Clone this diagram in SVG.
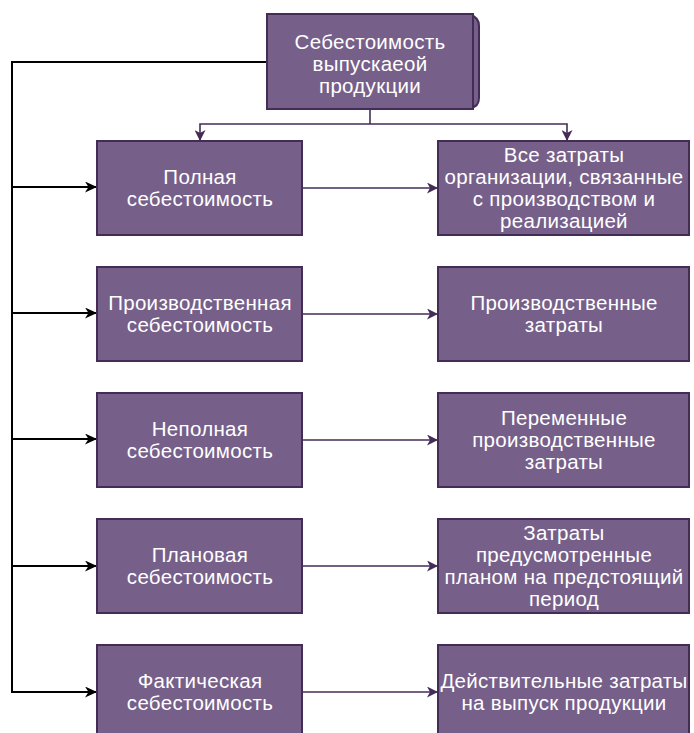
<svg xmlns="http://www.w3.org/2000/svg" width="694" height="733" viewBox="0 0 694 733">
<defs>
<marker id="ab" markerUnits="userSpaceOnUse" markerWidth="13" markerHeight="11" refX="12" refY="5.5" orient="auto"><path d="M0,0 L12,5.5 L0,11 L3.5,5.5 z" fill="#000"/></marker>
<marker id="ap" markerUnits="userSpaceOnUse" markerWidth="12" markerHeight="11" refX="11" refY="5.5" orient="auto"><path d="M0,0 L11,5.5 L0,11 L3,5.5 z" fill="#432D57"/></marker>
</defs>
<style>
.b{fill:#76608a;stroke:#432D57;stroke-width:2}
.t{font-family:"Liberation Sans",Arial,sans-serif;font-size:20.5px;letter-spacing:0.3px;fill:#fff;text-anchor:middle}
.k{fill:none;stroke:#000;stroke-width:2}
.p{fill:none;stroke:#432D57;stroke-width:1.6}
</style>
<g id="connectors">
<path class="k" d="M267,62 H12 V692 H97" marker-end="url(#ab)"/>
<path class="k" d="M12,187 H97" marker-end="url(#ab)"/>
<path class="k" d="M12,313 H97" marker-end="url(#ab)"/>
<path class="k" d="M12,439 H97" marker-end="url(#ab)"/>
<path class="k" d="M12,566 H97" marker-end="url(#ab)"/>
<path class="p" d="M370,109 V124"/>
<path class="p" d="M370,124 H200 V141" marker-end="url(#ap)"/>
<path class="p" d="M370,124 H567 V141" marker-end="url(#ap)"/>
<path class="p" d="M302,188 H438" marker-end="url(#ap)"/>
<path class="p" d="M302,314 H438" marker-end="url(#ap)"/>
<path class="p" d="M302,440 H438" marker-end="url(#ap)"/>
<path class="p" d="M302,566 H438" marker-end="url(#ap)"/>
<path class="p" d="M302,692 H438" marker-end="url(#ap)"/>
</g>
<g id="root">
<path d="M470,15 Q479,17 479,26 V98 Q479,107 470,108 Z" fill="#76608a" stroke="#432D57" stroke-width="2"/>
<rect class="b" x="267" y="14" width="206" height="95"/>
<text class="t" x="370" y="49">Себестоимость</text>
<text class="t" x="370" y="71">выпускаеой</text>
<text class="t" x="370" y="93">продукции</text>
</g>
<g id="l1"><rect class="b" x="97" y="141" width="205" height="94"/>
<text class="t" x="200" y="184">Полная</text><text class="t" x="200" y="206">себестоимость</text></g>
<g id="r1"><rect class="b" x="438" y="141" width="251" height="94"/>
<text class="t" x="564" y="162">Все затраты</text><text class="t" x="564" y="184">организации, связанные</text><text class="t" x="564" y="206">с производством и</text><text class="t" x="564" y="228">реализацией</text></g>
<g id="l2"><rect class="b" x="97" y="267" width="205" height="94"/>
<text class="t" x="200" y="310">Производственная</text><text class="t" x="200" y="332">себестоимость</text></g>
<g id="r2"><rect class="b" x="438" y="267" width="251" height="94"/>
<text class="t" x="564" y="310">Производственные</text><text class="t" x="564" y="332">затраты</text></g>
<g id="l3"><rect class="b" x="97" y="393" width="205" height="94"/>
<text class="t" x="200" y="436">Неполная</text><text class="t" x="200" y="458">себестоимость</text></g>
<g id="r3"><rect class="b" x="438" y="393" width="251" height="94"/>
<text class="t" x="564" y="425">Переменные</text><text class="t" x="564" y="447">производственные</text><text class="t" x="564" y="469">затраты</text></g>
<g id="l4"><rect class="b" x="97" y="519" width="205" height="94"/>
<text class="t" x="200" y="562">Плановая</text><text class="t" x="200" y="584">себестоимость</text></g>
<g id="r4"><rect class="b" x="438" y="519" width="251" height="94"/>
<text class="t" x="564" y="540">Затраты</text><text class="t" x="564" y="562">предусмотренные</text><text class="t" x="564" y="584">планом на предстоящий</text><text class="t" x="564" y="606">период</text></g>
<g id="l5"><rect class="b" x="97" y="645" width="205" height="94"/>
<text class="t" x="200" y="688">Фактическая</text><text class="t" x="200" y="710">себестоимость</text></g>
<g id="r5"><rect class="b" x="438" y="645" width="251" height="94"/>
<text class="t" x="564" y="688">Действительные затраты</text><text class="t" x="564" y="710">на выпуск продукции</text></g>
</svg>
